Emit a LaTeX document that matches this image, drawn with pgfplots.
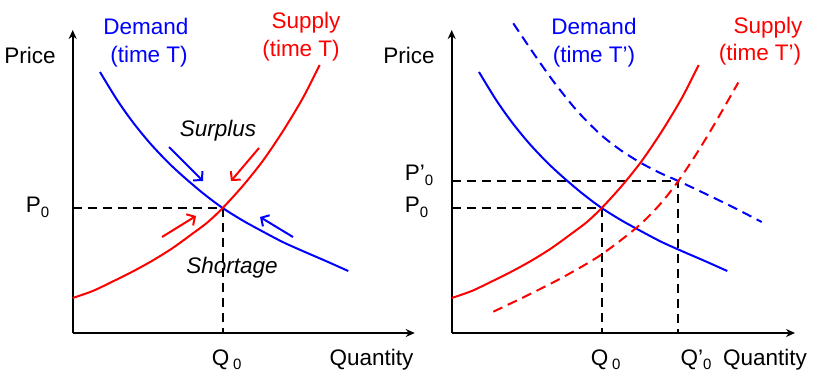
\documentclass[border=0pt]{standalone}
\usepackage{fontspec}
\setmainfont{Liberation Sans}
\usepackage{pgfplots}
\pgfplotsset{compat=1.18}
\usetikzlibrary{arrows.meta}

% subscript as drawn in the reference: small and set a little low
\newcommand\sub[1]{\raisebox{-4.5pt}{\fontsize{15}{15}\selectfont #1}}

\pgfplotsset{
  sdpanel/.style={
    x=1pt, y=1pt, xmin=0, ymin=0, ymax=303,
    anchor=south west,
    axis lines=left,
    axis line style={line width=1.6pt, -{Stealth[length=9pt,width=8pt]}},
    clip=false,
    major tick length=0pt,
    tick style={draw=none},
    ticklabel style={font=\fontsize{22.5}{26}\selectfont, inner sep=0pt},
    yticklabel style={anchor=base west, xshift=-47pt, yshift=-4.5pt},
    xticklabel style={anchor=base west, xshift=-11pt, yshift=-32pt},
  },
  curve/.style={line width=2pt, smooth, tension=0.5},
  guide/.style={black, line width=2pt, dash pattern=on 9pt off 6pt},
  nudge/.style={line width=2pt, -{Straight Barb[length=6pt,width=13pt]}},
}

% curves (pixels from the axis origin)
\def\demand{(27.3,261) (44,233.7) (60,211) (77.3,189.8) (95,171) (110.6,156.5)
  (130,140) (150,125) (170,112.5) (190,101.5) (210,91) (230,82) (252,72.5) (275.6,62)}
\def\supply{(0,35) (20,42) (40,51.5) (60,61.5) (80,72.5) (100,85) (120,99.5)
  (135,110.8) (150,125) (170,147) (190,172) (210,201.5) (230,234.7) (247,268)}

\begin{document}
\begin{tikzpicture}[font=\fontsize{22.5}{26}\selectfont, every node/.style={inner sep=0pt}]
\useasboundingbox (0,0) rectangle (814pt,384pt);

% ---- left: time T
\begin{axis}[sdpanel, at={(72.7pt,51pt)}, xmax=342,
  xtick={150}, xticklabels={Q\,\sub{0}},
  ytick={125}, yticklabels={P\sub{0}}]
\addplot[guide] coordinates {(0,125) (150,125) (150,0)};
\addplot[blue, curve] coordinates {\demand};
\addplot[red, curve] coordinates {\supply};
\addplot[blue, nudge] coordinates {(96.3,186) (130.3,152)};
\addplot[red, nudge] coordinates {(186.3,185) (158.3,152)};
\addplot[red, nudge] coordinates {(89.3,96) (123.3,117)};
\addplot[blue, nudge] coordinates {(220.3,96) (187.3,116)};
\node[anchor=base west] at (axis cs:-68.5,269.3) {Price};
\node[anchor=base] at (axis cs:298.8,-32) {Quantity};
\node[anchor=base, blue] at (axis cs:73.3,298.7) {Demand};
\node[anchor=base, blue] at (axis cs:76.3,271) {(time T)};
\node[anchor=base, red] at (axis cs:233.3,305) {Supply};
\node[anchor=base, red] at (axis cs:228.3,277) {(time T)};
\node[anchor=base, font=\fontsize{22.5}{26}\selectfont\itshape] at (axis cs:145.3,197) {Surplus};
\node[anchor=base, font=\fontsize{22.5}{26}\selectfont\itshape] at (axis cs:159.3,60) {Shortage};
\end{axis}

% ---- right: time T'
\begin{axis}[sdpanel, at={(451.7pt,51pt)}, xmax=343.3,
  xtick={150,226.6}, xticklabels={Q\,\sub{0}, \hspace{13pt}Q’\sub{0}},
  ytick={125,152}, yticklabels={P\sub{0}, \raisebox{5pt}{P’\sub{0}}}]
\addplot[guide] coordinates {(0,125) (150,125) (150,0)};
\addplot[guide] coordinates {(0,152) (226.6,152) (226.6,0)};
\addplot[blue, curve] coordinates {\demand};
\addplot[red, curve] coordinates {\supply};
\addplot[blue, curve, dash pattern=on 10pt off 6pt] coordinates {
  (61.6,309.7) (81.6,280) (101.6,251.8) (125,222.6) (148.3,199) (168.3,183.3)
  (188.3,170.6) (208.3,160.1) (226.6,152) (250,141) (280,126.5) (310,111)};
\addplot[red, curve, dash pattern=on 10pt off 6pt] coordinates {
  (41.6,21.3) (78.3,38.9) (111.6,56) (148.3,77.5) (185,105.5) (208.3,128.7)
  (226.6,152) (245,179.6) (263.3,209.8) (286.6,250.5)};
\node[anchor=base west] at (axis cs:-68.5,269.3) {Price};
\node[anchor=base] at (axis cs:313.3,-32) {Quantity};
\node[anchor=base, blue] at (axis cs:142.3,298.7) {Demand};
\node[anchor=base, blue] at (axis cs:142.3,271) {(time T’)};
\node[anchor=base, red] at (axis cs:316.3,300) {Supply};
\node[anchor=base, red] at (axis cs:308.3,272.5) {(time T’)};
\end{axis}
\end{tikzpicture}
\end{document}
